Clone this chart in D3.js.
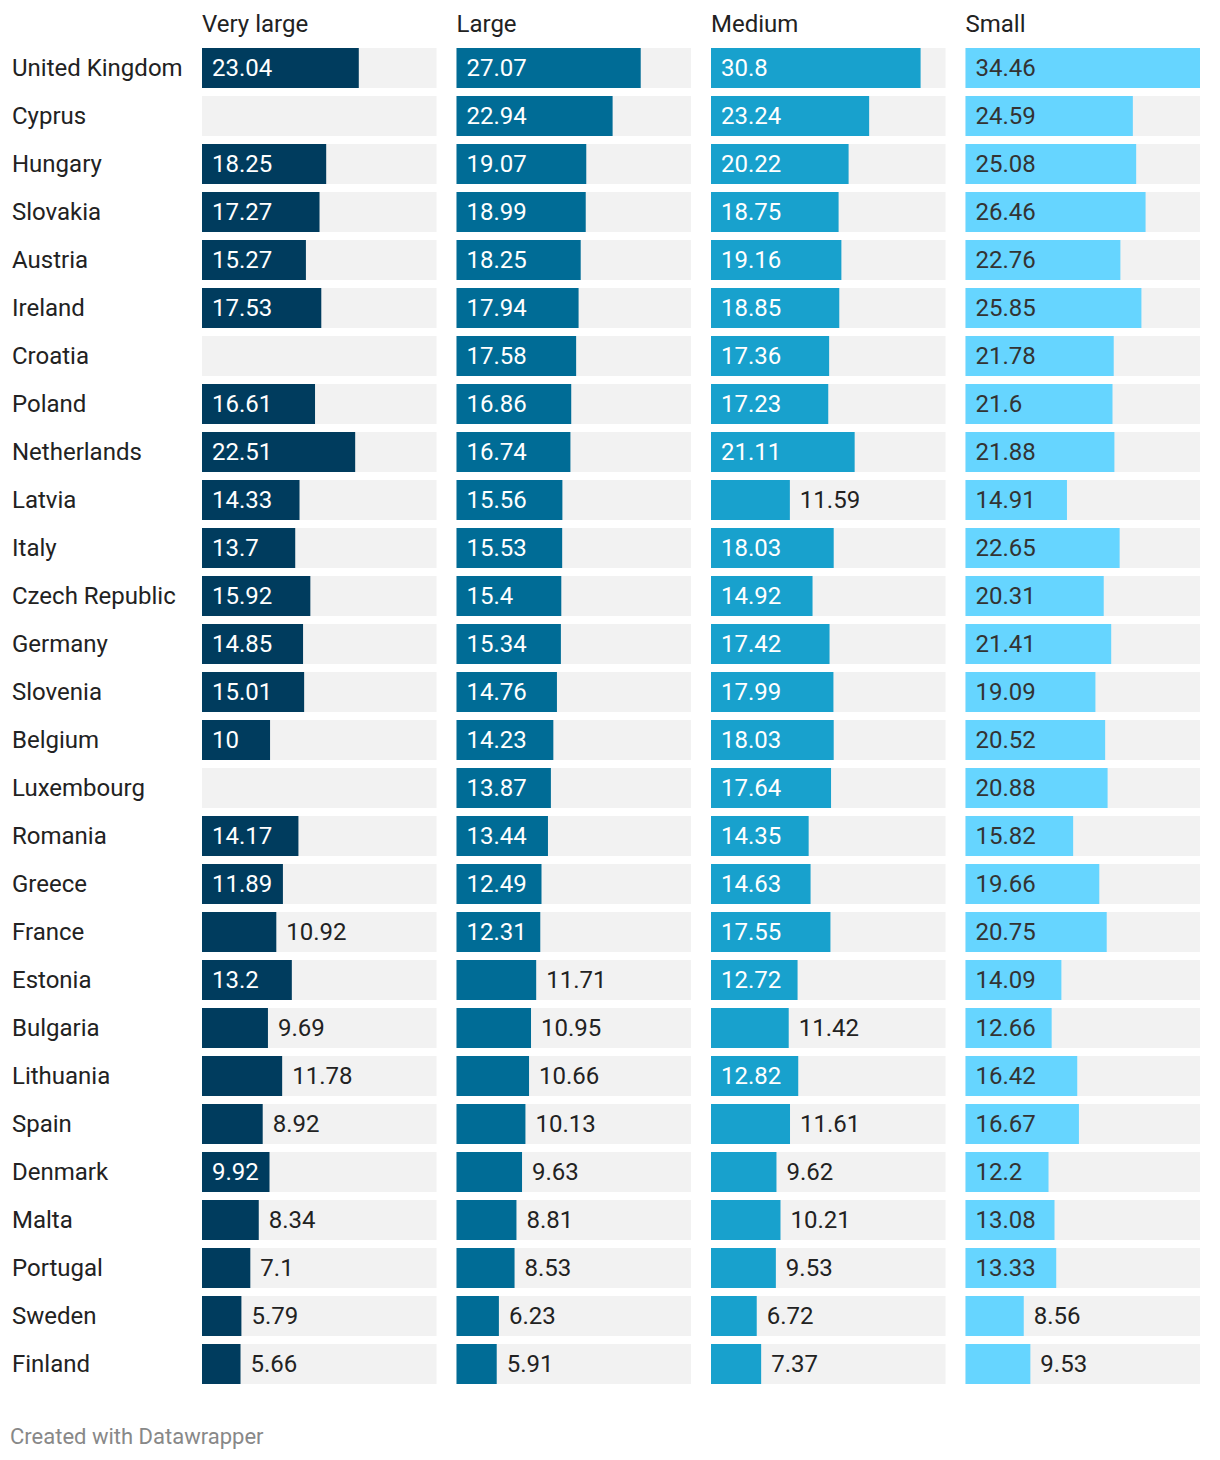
<!DOCTYPE html>
<html>
<head>
<meta charset="utf-8">
<script src="https://cdn.jsdelivr.net/npm/d3@7"></script>
<style>
  html, body { margin: 0; padding: 0; background: #ffffff; }
  svg { display: block; font-family: Roboto, "Noto Sans", sans-serif; }
</style>
</head>
<body>
<svg id="chart" width="1220" height="1460"></svg>
<script>
const countries = ["United Kingdom","Cyprus","Hungary","Slovakia","Austria","Ireland","Croatia","Poland","Netherlands","Latvia","Italy","Czech Republic","Germany","Slovenia","Belgium","Luxembourg","Romania","Greece","France","Estonia","Bulgaria","Lithuania","Spain","Denmark","Malta","Portugal","Sweden","Finland"];
const seriesNames = ["Very large","Large","Medium","Small"];
const veryLarge = [23.04,null,18.25,17.27,15.27,17.53,null,16.61,22.51,14.33,13.7,15.92,14.85,15.01,10,null,14.17,11.89,10.92,13.2,9.69,11.78,8.92,9.92,8.34,7.1,5.79,5.66];
const large = [27.07,22.94,19.07,18.99,18.25,17.94,17.58,16.86,16.74,15.56,15.53,15.4,15.34,14.76,14.23,13.87,13.44,12.49,12.31,11.71,10.95,10.66,10.13,9.63,8.81,8.53,6.23,5.91];
const medium = [30.8,23.24,20.22,18.75,19.16,18.85,17.36,17.23,21.11,11.59,18.03,14.92,17.42,17.99,18.03,17.64,14.35,14.63,17.55,12.72,11.42,12.82,11.61,9.62,10.21,9.53,6.72,7.37];
const small = [34.46,24.59,25.08,26.46,22.76,25.85,21.78,21.6,21.88,14.91,22.65,20.31,21.41,19.09,20.52,20.88,15.82,19.66,20.75,14.09,12.66,16.42,16.67,12.2,13.08,13.33,8.56,9.53];
const footerText = "Created with Datawrapper";

const seriesValues = [veryLarge, large, medium, small];
const barColors = ["#003c5e","#006c96","#18a1cd","#66d5ff"];
const insideText = ["#ffffff","#ffffff","#ffffff","#333333"];

const svg = d3.select("#chart");
const fontSize = 24;

const col = d3.scaleBand().domain(seriesNames).range([202, 1200]).paddingInner(20/254.5).paddingOuter(0);
const row = d3.scaleBand().domain(countries).range([48, 1384]).paddingInner(8/48).paddingOuter(0);
const allVals = seriesValues.flat().filter(v => v != null);
const x = d3.scaleLinear().domain([0, d3.max(allVals)]).range([0, col.bandwidth()]);

// headers
svg.append("g").selectAll("text").data(seriesNames).join("text")
  .attr("x", d => col(d)).attr("y", 32)
  .attr("font-size", fontSize).attr("fill", "#222")
  .text(d => d);

// country labels
svg.append("g").selectAll("text").data(countries).join("text")
  .attr("x", 12).attr("y", d => row(d) + 28)
  .attr("font-size", fontSize).attr("fill", "#222")
  .text(d => d);

seriesNames.forEach((s, si) => {
  const g = svg.append("g").attr("transform", `translate(${col(s)},0)`);
  const data = countries.map((c, i) => ({c, v: seriesValues[si][i]}));
  g.selectAll("rect.bg").data(data).join("rect").attr("class","bg")
    .attr("x", 0).attr("y", d => row(d.c)).attr("width", col.bandwidth()).attr("height", row.bandwidth())
    .attr("fill", "#f2f2f2");
  const withV = data.filter(d => d.v != null);
  g.selectAll("rect.bar").data(withV).join("rect").attr("class","bar")
    .attr("x", 0).attr("y", d => row(d.c)).attr("width", d => x(d.v)).attr("height", row.bandwidth())
    .attr("fill", barColors[si]);
  g.selectAll("text.val").data(withV).join("text").attr("class","val")
    .each(function(d) {
      const label = String(d.v);
      const w = x(d.v);
      const inside = w >= label.length * 14 + 10.5;
      d3.select(this)
        .attr("x", inside ? 10 : w + 10)
        .attr("y", row(d.c) + 28)
        .attr("font-size", fontSize)
        .attr("fill", inside ? insideText[si] : "#222")
        .text(label);
    });
});

svg.append("text").attr("x", 10).attr("y", 1444)
  .attr("font-size", 22).attr("fill", "#888")
  .text(footerText);
</script>
</body>
</html>
